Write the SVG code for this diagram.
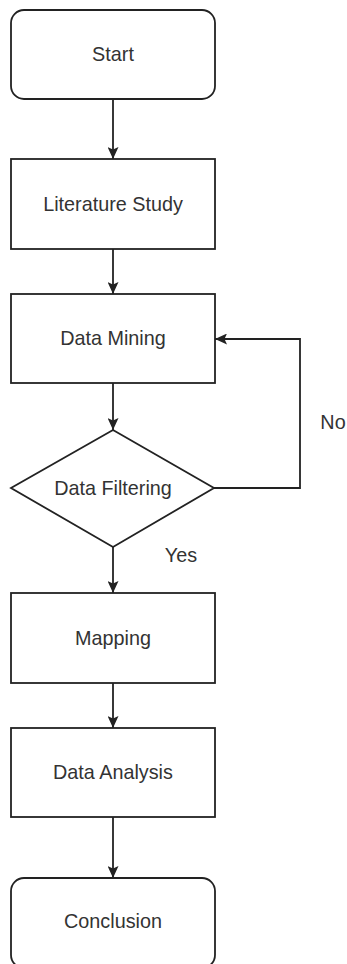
<svg xmlns="http://www.w3.org/2000/svg" width="347" height="964" viewBox="0 0 347 964">
<defs>
<style>
.n{fill:#fff;stroke:#222;stroke-width:1.8}
.t{font-family:"Liberation Sans",Arial,sans-serif;font-size:19.8px;fill:#333;text-anchor:middle}
.e{fill:none;stroke:#222;stroke-width:1.8}
</style>
<marker id="ah" viewBox="0 0 12 11" refX="12" refY="5.5" markerWidth="12" markerHeight="11" markerUnits="userSpaceOnUse" orient="auto">
<path d="M0,0 L12,5.5 L0,11 L2.5,5.5 Z" fill="#222"/>
</marker>
</defs>
<rect width="347" height="964" fill="#fff"/>
<g id="connectors">
<line class="e" x1="113" y1="99" x2="113" y2="159" marker-end="url(#ah)"/>
<line class="e" x1="113" y1="249" x2="113" y2="294" marker-end="url(#ah)"/>
<line class="e" x1="113" y1="383" x2="113" y2="430" marker-end="url(#ah)"/>
<polyline class="e" points="214,488 300,488 300,339 215,339" marker-end="url(#ah)"/>
<line class="e" x1="113" y1="547" x2="113" y2="593" marker-end="url(#ah)"/>
<line class="e" x1="113" y1="683" x2="113" y2="728" marker-end="url(#ah)"/>
<line class="e" x1="113" y1="817" x2="113" y2="878" marker-end="url(#ah)"/>
<text class="t" x="333" y="429">No</text>
<text class="t" x="181" y="562">Yes</text>
</g>
<g id="start"><rect class="n" x="11" y="10" width="204" height="89" rx="13"/><text class="t" x="113" y="61">Start</text></g>
<g id="literature"><rect class="n" x="11" y="159" width="204" height="90"/><text class="t" x="113" y="211">Literature Study</text></g>
<g id="mining"><rect class="n" x="11" y="294" width="204" height="89"/><text class="t" x="113" y="345">Data Mining</text></g>
<g id="filtering"><polygon class="n" points="113,430 214,488 113,547 11,488"/><text class="t" x="113" y="495">Data Filtering</text></g>
<g id="mapping"><rect class="n" x="11" y="593" width="204" height="90"/><text class="t" x="113" y="645">Mapping</text></g>
<g id="analysis"><rect class="n" x="11" y="728" width="204" height="89"/><text class="t" x="113" y="779">Data Analysis</text></g>
<g id="conclusion"><rect class="n" x="11" y="878" width="204" height="90" rx="13"/><text class="t" x="113" y="928">Conclusion</text></g>
</svg>
